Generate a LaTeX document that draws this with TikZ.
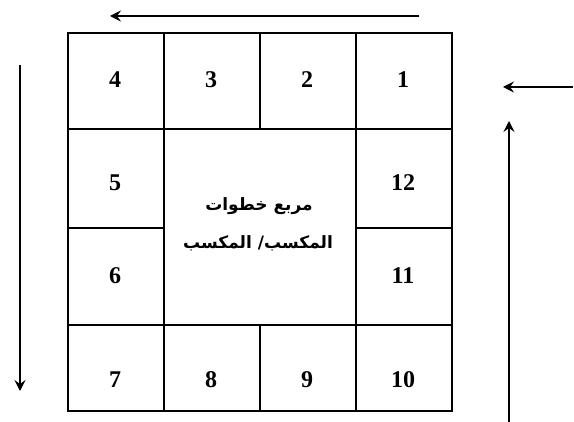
\documentclass[tikz,border=0pt]{standalone}
\usepackage{fontspec}
\setmainfont{Liberation Serif}
\newfontfamily\arabicfont[Script=Arabic]{DejaVu Sans}
\TeXXeTstate=1
\usetikzlibrary{arrows.meta}
\begin{document}
\begin{tikzpicture}[x=1pt,y=-1pt,
  cell/.style={draw,line width=1.9pt,inner sep=0pt,anchor=north west},
  num/.style={font=\fontsize{24}{24}\selectfont\bfseries},
  ar/.style={font=\arabicfont\bfseries\fontsize{17}{19}\selectfont,inner sep=0pt},
  arr/.style={line width=1.1pt,-{Stealth[length=11pt,width=11pt,inset=4pt]}}]
\useasboundingbox (0,0) rectangle (574,422);
% top row
\node[cell,minimum width=96pt,minimum height=96pt] (c4) at (67,32) {};
\node[cell,minimum width=96pt,minimum height=96pt] (c3) at (163,32) {};
\node[cell,minimum width=96pt,minimum height=96pt] (c2) at (259,32) {};
\node[cell,minimum width=96pt,minimum height=96pt] (c1) at (355,32) {};
% side columns
\node[cell,minimum width=96pt,minimum height=99pt] (c5) at (67,128) {};
\node[cell,minimum width=96pt,minimum height=97pt] (c6) at (67,227) {};
\node[cell,minimum width=96pt,minimum height=99pt] (c12) at (355,128) {};
\node[cell,minimum width=96pt,minimum height=97pt] (c11) at (355,227) {};
% centre
\node[cell,minimum width=192pt,minimum height=196pt] (mid) at (163,128) {};
% bottom row
\node[cell,minimum width=96pt,minimum height=86pt] (c7) at (67,324) {};
\node[cell,minimum width=96pt,minimum height=86pt] (c8) at (163,324) {};
\node[cell,minimum width=96pt,minimum height=86pt] (c9) at (259,324) {};
\node[cell,minimum width=96pt,minimum height=86pt] (c10) at (355,324) {};
% numbers
\node[num] (t4) at (115,80) {4};
\node[num] (t3) at (211,80) {3};
\node[num] (t2) at (307,80) {2};
\node[num] (t1) at (403,80) {1};
\node[num] (t5) at (115,183) {5};
\node[num] (t12) at (403,183) {12};
\node[num] (t6) at (115,276) {6};
\node[num] (t11) at (403,276) {11};
\node[num] (t7) at (115,380) {7};
\node[num] (t8) at (211,380) {8};
\node[num] (t9) at (307,380) {9};
\node[num] (t10) at (403,380) {10};
% centre text
\node[ar] (l1) at (259,206) {\beginR مربع خطوات\endR};
\node[ar] (l2) at (258,243) {\beginR المكسب/ المكسب\endR};
% arrows
\coordinate (ta) at (419,16);
\coordinate (tb) at (110,16);
\coordinate (la) at (20,65);
\coordinate (lb) at (20,391);
\coordinate (ra) at (573,87);
\coordinate (rb) at (503,87);
\coordinate (va) at (509,422);
\coordinate (vb) at (509,121);
\draw[arr] (ta) -- (tb);
\draw[arr] (la) -- (lb);
\draw[arr] (ra) -- (rb);
\draw[arr] (va) -- (vb);
\end{tikzpicture}
\end{document}
